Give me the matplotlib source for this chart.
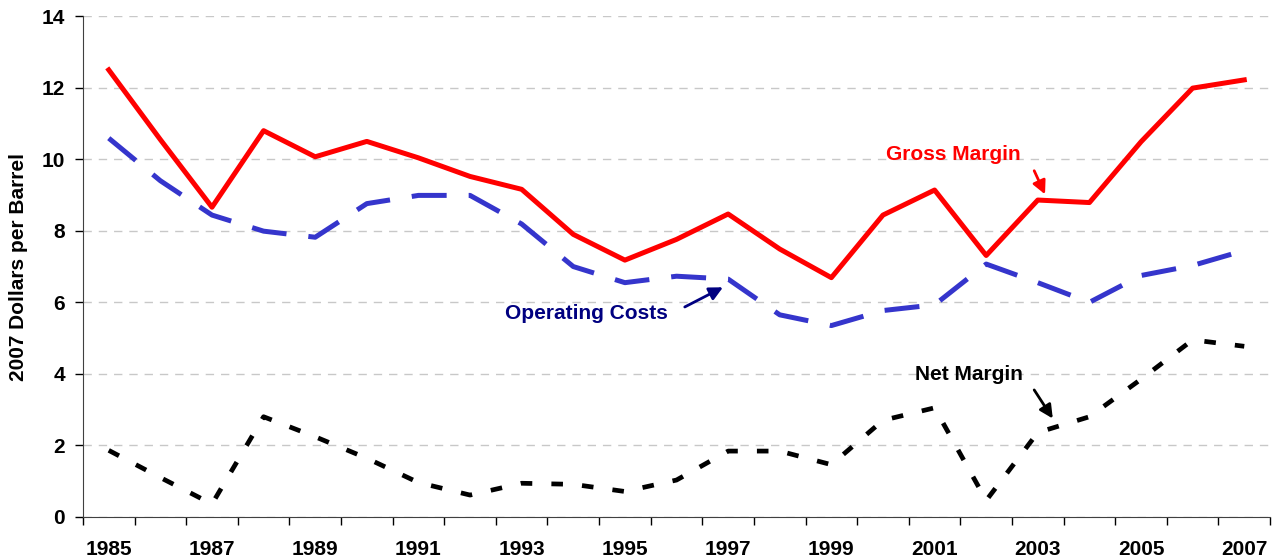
import matplotlib.pyplot as plt
import numpy as np

plt.rcParams['font.family'] = ['Liberation Sans', 'DejaVu Sans']
plt.rcParams['font.weight'] = 'bold'

years = list(range(1985, 2008))
gross_margin = [12.5, 10.55, 8.66, 10.8, 10.07, 10.5, 10.04, 9.52, 9.16, 7.9, 7.18, 7.76,
                8.47, 7.49, 6.69, 8.44, 9.14, 7.31, 8.86, 8.79, 10.49, 11.99, 12.22]
operating_costs = [10.59, 9.4, 8.44, 7.99, 7.82, 8.76, 8.99, 8.99, 8.19, 7.0, 6.55, 6.73,
                   6.65, 5.65, 5.35, 5.77, 5.93, 7.07, 6.55, 6.0, 6.75, 7.03, 7.45]
net_margin = [1.86, 1.1, 0.36, 2.8, 2.24, 1.64, 0.96, 0.61, 0.94, 0.91, 0.71, 1.03,
              1.84, 1.84, 1.46, 2.7, 3.05, 0.46, 2.36, 2.8, 3.85, 4.95, 4.77]

x = np.arange(len(years))

fig = plt.figure(figsize=(12.82, 5.6), dpi=100)
ax = fig.add_axes([0.0647, 0.077, 0.926, 0.894])

ax.plot(x, gross_margin, color='#FF0000', lw=3.6)
ax.plot(x, operating_costs, color='#3535CC', lw=3.6, dashes=(7, 4.4))
ax.plot(x, net_margin, color='black', lw=3.4, dashes=(2.45, 4.05))

ax.set_xlim(-0.5, len(years) - 0.5)
ax.set_ylim(0, 14)
ax.set_yticks(range(0, 15, 2))
ax.yaxis.grid(True, color='#C8C8C8', lw=1, dashes=(6, 5))
ax.set_axisbelow(True)

# ticks on category borders, labels on every other year
ax.set_xticks(np.arange(-0.5, len(years), 1.0))
ax.set_xticklabels([])
ax.set_xticks(x[::2], minor=True)
ax.set_xticklabels([str(y) for y in years[::2]], minor=True)
ax.tick_params(axis='x', which='major', direction='out', length=6, width=1)
ax.tick_params(axis='x', which='minor', length=0, pad=17, labelsize=15)
ax.tick_params(axis='y', direction='out', length=6, width=1, pad=7, labelsize=15)

for s in ['top', 'right']:
    ax.spines[s].set_visible(False)
for s in ['left', 'bottom']:
    ax.spines[s].set_color('#404040')

ax.set_ylabel('2007 Dollars per Barrel', fontsize=15, fontweight='bold', labelpad=10)

arrow_kw = dict(arrowstyle='-|>', lw=2, mutation_scale=20, shrinkA=0, shrinkB=0)

ax.text(16.37, 10.12, 'Gross Margin', color='#FF0000', fontsize=15,
        fontweight='bold', ha='center', va='center')
ax.annotate('', xy=(18.14, 9.02), xytext=(17.93, 9.68),
            arrowprops=dict(color='#FF0000', **arrow_kw))

ax.text(9.26, 5.70, 'Operating Costs', color='#000080', fontsize=15,
        fontweight='bold', ha='center', va='center')
ax.annotate('', xy=(11.9, 6.42), xytext=(11.16, 5.87),
            arrowprops=dict(color='#000080', **arrow_kw))

ax.text(16.66, 3.97, 'Net Margin', color='black', fontsize=15,
        fontweight='bold', ha='center', va='center')
ax.annotate('', xy=(18.29, 2.75), xytext=(17.93, 3.55),
            arrowprops=dict(color='black', **arrow_kw))

fig.savefig('out.png', dpi=100)
